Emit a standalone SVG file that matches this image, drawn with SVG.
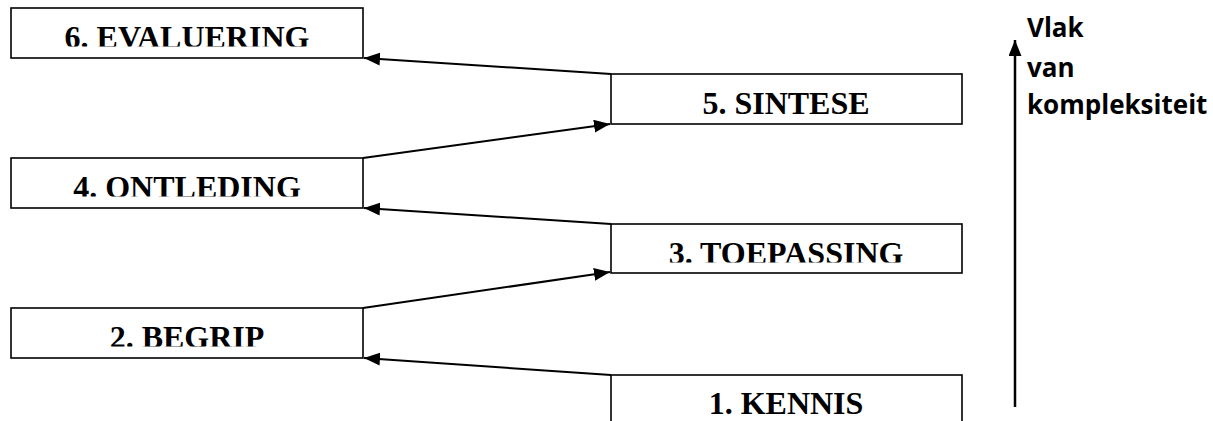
<svg xmlns="http://www.w3.org/2000/svg" width="1213" height="421" viewBox="0 0 1213 421">
  <style>
    .box { fill: #ffffff; stroke: #000000; stroke-width: 1.6; }
    .lbl { font-family: "Liberation Serif", "Times New Roman", serif; font-weight: bold; font-size: 32px; fill: #000000; text-anchor: middle; }
    .conn { stroke: #000000; stroke-width: 2; fill: none; marker-end: url(#ah); }
    .side { font-family: "Open Sans", "Noto Sans", sans-serif; font-weight: bold; font-size: 26px; fill: #000000; }
  </style>
  <defs>
    <marker id="ah" markerUnits="userSpaceOnUse" markerWidth="18" markerHeight="14" refX="16" refY="6.5" orient="auto">
      <path d="M0,0 L16,6.5 L0,13 z" fill="#000000"/>
    </marker>
    <clipPath id="c6"><rect x="11" y="8" width="352" height="38.5"/></clipPath>
    <clipPath id="c4"><rect x="11" y="158" width="352" height="38.5"/></clipPath>
    <clipPath id="c3"><rect x="611" y="224" width="351" height="38.5"/></clipPath>
    <clipPath id="c2"><rect x="11" y="308" width="352" height="38.5"/></clipPath>
  </defs>
  <rect width="1213" height="421" fill="#ffffff"/>

  <g id="connectors">
    <line class="conn" x1="611" y1="375" x2="364" y2="358"/>
    <line class="conn" x1="363" y1="308" x2="610" y2="272"/>
    <line class="conn" x1="611" y1="224" x2="364" y2="208"/>
    <line class="conn" x1="363" y1="158" x2="610" y2="124"/>
    <line class="conn" x1="611" y1="74" x2="364" y2="58"/>
  </g>

  <g id="node-6">
    <rect class="box" x="11" y="8" width="352" height="50"/>
    <text class="lbl" x="187" y="48" clip-path="url(#c6)">6. EVALUERING</text>
  </g>
  <g id="node-5">
    <rect class="box" x="611" y="74" width="351" height="50"/>
    <text class="lbl" x="786" y="114">5. SINTESE</text>
  </g>
  <g id="node-4">
    <rect class="box" x="11" y="158" width="352" height="50"/>
    <text class="lbl" x="187" y="198" clip-path="url(#c4)">4. ONTLEDING</text>
  </g>
  <g id="node-3">
    <rect class="box" x="611" y="224" width="351" height="49"/>
    <text class="lbl" x="786" y="264" clip-path="url(#c3)">3. TOEPASSING</text>
  </g>
  <g id="node-2">
    <rect class="box" x="11" y="308" width="352" height="50"/>
    <text class="lbl" x="187" y="348" clip-path="url(#c2)">2. BEGRIP</text>
  </g>
  <g id="node-1">
    <rect class="box" x="611" y="375" width="351" height="52"/>
    <text class="lbl" x="786" y="414">1. KENNIS</text>
  </g>

  <g id="axis">
    <line x1="1015" y1="407" x2="1015" y2="40" stroke="#000000" stroke-width="2.5" marker-end="url(#ah)"/>
    <text class="side" x="1027" y="37">Vlak</text>
    <text class="side" x="1027" y="77">van</text>
    <text class="side" x="1027" y="114">kompleksiteit</text>
  </g>
</svg>
